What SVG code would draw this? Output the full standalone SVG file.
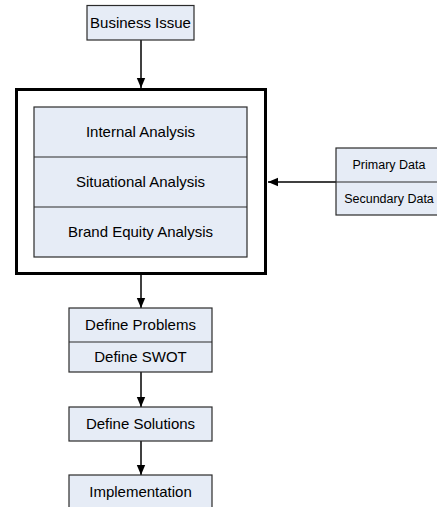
<svg xmlns="http://www.w3.org/2000/svg" width="437" height="507" viewBox="0 0 437 507">
  <defs>
    <style>
      .box { fill: #e6ecf6; stroke: #2b2b2b; stroke-width: 1.2; }
      .div { stroke: #2b2b2b; stroke-width: 1.2; fill: none; }
      .frame { fill: #ffffff; stroke: #000000; stroke-width: 3; }
      .lbl { font-family: "Liberation Sans", Arial, sans-serif; font-size: 15px; fill: #000000; text-anchor: middle; }
      .sm { font-size: 12.5px; }
      .conn { stroke: #000000; stroke-width: 1.5; fill: none; marker-end: url(#arrow); }
    </style>
    <marker id="arrow" markerUnits="userSpaceOnUse" markerWidth="10" markerHeight="10" viewBox="0 0 10 10" refX="10" refY="5" orient="auto">
      <path d="M0,0.8 L10,5 L0,9.2 Z" fill="#000000"/>
    </marker>
  </defs>

  <g id="connectors">
    <line class="conn" x1="141" y1="40" x2="141" y2="88"/>
    <line class="conn" x1="336" y1="182" x2="268" y2="182"/>
    <line class="conn" x1="141" y1="274" x2="141" y2="308"/>
    <line class="conn" x1="141" y1="372" x2="141" y2="407"/>
    <line class="conn" x1="141" y1="441" x2="141" y2="475"/>
  </g>

  <g id="business-issue">
    <rect class="box" x="87" y="5.5" width="107" height="34.5"/>
    <text class="lbl" x="140.5" y="28">Business Issue</text>
  </g>

  <g id="analysis">
    <rect class="frame" x="16.5" y="89.5" width="249" height="184"/>
    <rect class="box" x="34" y="107" width="213" height="150"/>
    <line class="div" x1="34" y1="157" x2="247" y2="157"/>
    <line class="div" x1="34" y1="207" x2="247" y2="207"/>
    <text class="lbl" x="140.5" y="137">Internal Analysis</text>
    <text class="lbl" x="140.5" y="187">Situational Analysis</text>
    <text class="lbl" x="140.5" y="237">Brand Equity Analysis</text>
  </g>

  <g id="data-sources">
    <rect class="box" x="336" y="148" width="106" height="67"/>
    <line class="div" x1="336" y1="182" x2="442" y2="182"/>
    <text class="lbl sm" x="389" y="169">Primary Data</text>
    <text class="lbl sm" x="389" y="203">Secundary Data</text>
  </g>

  <g id="problems-swot">
    <rect class="box" x="69" y="308" width="143" height="64"/>
    <line class="div" x1="69" y1="342" x2="212" y2="342"/>
    <text class="lbl" x="140.5" y="330">Define Problems</text>
    <text class="lbl" x="140.5" y="362">Define SWOT</text>
  </g>

  <g id="solutions">
    <rect class="box" x="69" y="407" width="143" height="34"/>
    <text class="lbl" x="140.5" y="429">Define Solutions</text>
  </g>

  <g id="implementation">
    <rect class="box" x="69" y="475" width="143" height="34"/>
    <text class="lbl" x="140.5" y="497">Implementation</text>
  </g>
</svg>
